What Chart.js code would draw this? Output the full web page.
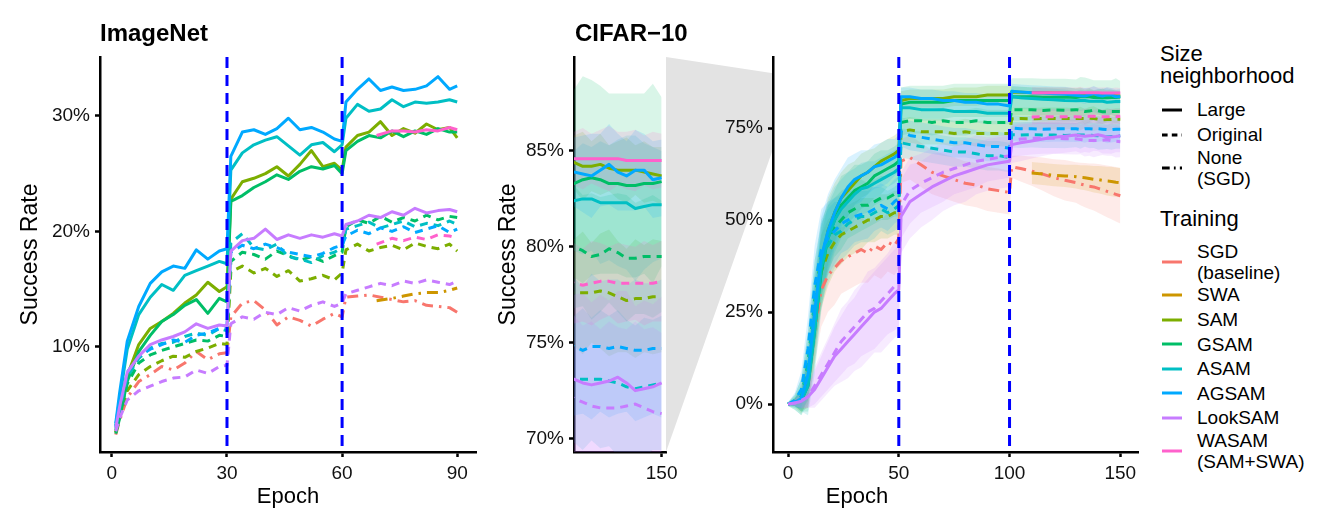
<!DOCTYPE html>
<html>
<head>
<meta charset="utf-8">
<script src="https://cdn.jsdelivr.net/npm/chart.js@4.4.1/dist/chart.umd.min.js"></script>
<style>
  body { margin: 0; background: #fff; font-family: "Liberation Sans", Arial, sans-serif; }
  #wrap { position: relative; width: 1329px; height: 532px; overflow: hidden; background: #fff; }
  canvas { position: absolute; top: 0; }
  .txt { position: absolute; white-space: nowrap; color: #000; }
  .title { font-weight: bold; font-size: 24px; line-height: 24px; top: 21px; }
  .xlab { font-size: 22px; line-height: 22px; top: 485px; transform: translateX(-50%); }
  .ltitle { font-size: 22px; line-height: 21.5px; left: 1160px; }
  .row { position: absolute; left: 1160px; display: flex; align-items: center; }
  .row svg { width: 24px; height: 8px; flex: none; }
  .row span { font-size: 19px; line-height: 21px; margin-left: 13px; color: #000; }
</style>
</head>
<body>
<div id="wrap">
  <canvas id="imagenet" width="486" height="532" style="left:0px"></canvas>
  <canvas id="cifarZoom" width="210" height="532" style="left:480px"></canvas>
  <canvas id="cifarFull" width="480" height="532" style="left:666px"></canvas>
  <div class="txt title" style="left:100px">ImageNet</div>
  <div class="txt title" style="left:575px">CIFAR−10</div>
  <div class="txt xlab" style="left:288px">Epoch</div>
  <div class="txt xlab" style="left:857px">Epoch</div>
  <div class="txt ltitle" style="top:43px">Size<br>neighborhood</div>
  <div class="txt ltitle" style="top:208px">Training</div>
  <div id="legend"></div>
</div>
<script>
// ---------------- ImageNet data ----------------
const imagenetEpochs = [1, 2, 4, 7, 10, 13, 16, 19, 22, 25, 28, 30,
  31, 34, 37, 40, 43, 46, 49, 52, 55, 58, 60,
  61, 64, 67, 70, 73, 76, 79, 82, 85, 88, 90];
const imagenetLateEpochs = [69, 73, 76, 79, 82, 85, 88, 90];

const inSGD = [2.4, 3.6, 5.6, 7.0, 7.6, 8.3, 8.0, 8.6, 9.6, 8.9, 9.4, 9.5,
  12.6, 13.8, 14.0, 13.2, 11.9, 12.6, 12.3, 11.8, 12.4, 12.9, 12.6,
  14.3, 14.4, 14.5, 14.3, 14.1, 13.9, 14.0, 13.6, 13.5, 13.4, 13.0];
const inSWA = [14.0, 14.2, 14.4, 14.6, 14.7, 14.7, 14.9, 15.1];
const inSAM_L = [2.6, 4.0, 7.5, 10.2, 11.6, 12.2, 12.9, 13.8, 14.5, 15.6, 14.8, 15.2,
  22.8, 24.3, 24.6, 25.0, 25.6, 24.8, 25.8, 27.0, 25.6, 25.9, 25.3,
  27.3, 28.3, 28.6, 29.5, 28.3, 28.9, 28.5, 29.3, 28.8, 29.0, 28.1];
const inSAM_O = [2.6, 3.9, 6.2, 7.6, 8.3, 8.8, 9.2, 9.1, 9.6, 9.9, 10.3, 10.2,
  16.5, 17.0, 16.4, 16.8, 16.1, 16.6, 15.7, 15.9, 16.2, 15.8, 16.4,
  18.4, 18.9, 18.3, 18.6, 18.8, 18.4, 19.0, 18.7, 18.5, 18.9, 18.3];
const inGSAM_L = [2.5, 3.8, 7.0, 9.6, 11.0, 12.2, 12.8, 13.6, 14.1, 12.9, 14.2, 13.9,
  22.6, 23.1, 23.8, 24.3, 24.9, 24.5, 25.2, 25.6, 25.4, 25.7, 25.0,
  27.0, 27.8, 28.3, 28.1, 28.7, 28.2, 28.7, 28.4, 28.9, 28.6, 28.6];
const inGSAM_O = [2.8, 4.2, 6.8, 8.6, 9.3, 9.7, 10.0, 10.3, 10.6, 10.5, 11.0, 10.9,
  17.4, 18.2, 18.0, 17.6, 18.3, 17.9, 17.5, 17.8, 17.4, 17.9, 18.2,
  20.4, 21.0, 20.7, 21.3, 20.8, 21.2, 20.9, 21.4, 21.0, 21.3, 21.2];
const inASAM_L = [3.2, 5.5, 9.8, 12.8, 14.3, 15.4, 14.9, 16.2, 16.6, 17.0, 17.4, 17.2,
  25.3, 26.8, 27.5, 27.9, 28.2, 27.4, 26.6, 27.5, 27.7, 26.9, 27.5,
  29.8, 31.0, 30.4, 30.6, 31.4, 30.8, 31.2, 31.1, 31.2, 31.4, 31.2];
const inASAM_O = [3.0, 4.6, 7.4, 9.0, 9.9, 10.3, 10.4, 10.9, 11.2, 11.0, 11.6, 11.4,
  19.0, 19.8, 18.6, 18.4, 18.9, 17.8, 17.6, 17.3, 17.9, 18.2, 18.6,
  20.2, 20.5, 20.8, 20.3, 20.6, 20.9, 20.4, 20.7, 20.5, 20.9, 20.6];
const inAGSAM_L = [3.4, 6.0, 10.5, 13.5, 15.5, 16.5, 17.0, 16.8, 18.4, 17.6, 18.3, 18.5,
  26.5, 28.6, 28.8, 28.4, 28.9, 29.8, 28.8, 29.0, 28.6, 28.0, 27.8,
  31.2, 32.3, 33.2, 32.2, 32.5, 32.2, 32.3, 32.6, 33.4, 32.3, 32.6];
const inAGSAM_O = [3.1, 4.8, 7.8, 9.2, 9.8, 10.2, 10.6, 10.4, 11.0, 11.2, 11.6, 11.9,
  18.2, 18.8, 18.5, 18.9, 18.6, 18.2, 18.0, 17.8, 18.1, 18.6, 18.8,
  19.6, 20.1, 19.8, 20.3, 20.0, 20.4, 19.9, 20.2, 20.5, 19.9, 20.2];
const inLook_L = [3.0, 4.8, 7.8, 9.2, 10.2, 10.6, 10.9, 11.3, 12.0, 11.6, 11.9, 11.8,
  18.3, 19.2, 19.4, 20.2, 19.3, 19.7, 19.4, 19.7, 19.5, 19.8, 19.6,
  20.6, 20.9, 21.4, 21.2, 21.7, 21.4, 22.0, 21.6, 21.8, 21.9, 21.7];
const inLook_O = [2.7, 3.8, 5.4, 6.2, 6.6, 7.0, 7.3, 7.4, 8.0, 7.7, 8.3, 8.4,
  12.0, 12.6, 12.4, 13.0, 12.8, 13.4, 13.1, 13.6, 13.9, 13.5, 13.8,
  14.6, 14.9, 15.2, 15.5, 15.3, 15.7, 15.5, 15.8, 15.6, 15.4, 15.7];
const inWASAM_L = [28.3, 28.7, 28.7, 28.6, 28.8, 28.7, 29.0, 28.8];
const inWASAM_O = [18.9, 19.4, 19.2, 19.5, 19.3, 19.7, 19.6, 19.4];

// ---------------- CIFAR-10 data (mean and spread) ----------------
const cifarEpochs = [0, 3, 6, 9, 12, 15, 18, 21, 24, 27, 30, 33, 36, 39, 42, 45, 48, 50,
  51, 55, 60, 65, 70, 75, 80, 85, 90, 95, 100,
  101, 105, 110, 115, 120, 125, 130, 132, 134, 136, 138, 140, 142, 144, 146, 148, 150];
const cifarLateEpochs = [110, 115, 120, 125, 130, 132, 134, 136, 138, 140, 142, 144, 146, 148, 150];

const cSGD = [0, 0.5, 1.5, 5, 20, 31, 35, 37, 39, 40, 41, 42, 41, 43, 42, 44, 43, 45,
  66, 67, 65, 63, 62, 61, 60, 59.5, 58.5, 58, 57.5,
  64.5, 64, 63.3, 62.5, 61.5, 60.8, 60.2, 59.8, 59.5, 59.2, 59.0, 58.6, 58.2, 57.8, 57.4, 57.0, 56.6];
const sSGD = [0.3, 1, 3, 6, 9, 10, 10, 10, 9, 9, 9, 9, 8, 8, 8, 8, 8, 8,
  6, 6, 6, 6, 6, 6, 6, 6, 6, 6, 6,
  3, 3.5, 4, 4.5, 5, 5.5, 5.5, 5.8, 6, 6.2, 6.4, 6.6, 6.8, 7, 7.2, 7.4, 7.5];
const cSWA = [62.8, 62.5, 62.2, 62.0, 61.8, 61.6, 61.5, 61.3, 61.1, 61.0, 60.8, 60.6, 60.5, 60.3, 60.2];
const sSWA = [3, 3, 3, 3, 3.2, 3.3, 3.4, 3.5, 3.6, 3.7, 3.8, 3.9, 4, 4, 4];
const cSAM_L = [0, 0.5, 1, 6, 22, 38, 47, 52, 56, 58, 60, 62, 63, 64.5, 66, 67, 68, 69,
  82.5, 83, 83, 83, 83, 83.5, 83.5, 83.5, 84, 84, 84,
  84.8, 84.7, 84.6, 84.6, 84.5, 84.5, 84.4, 84.2, 84.2, 84.3, 84.1, 84.0, 84.0, 84.0, 83.9, 83.8, 83.7];
const sSAM_L = [0.3, 1, 3, 7, 10, 10, 9, 8, 7, 7, 6, 6, 6, 5, 5, 5, 5, 5,
  2.5, 2.5, 2.5, 2.5, 2.5, 2.5, 2.5, 2.5, 2.5, 2.5, 2.5,
  1.5, 1.5, 1.5, 1.5, 1.5, 1.5, 1.4, 1.8, 1.3, 1.6, 1.2, 1.5, 1.7, 1.3, 1.6, 1.4, 1.5];
const cSAM_O = [0, 0.5, 1.5, 9, 25, 36, 41, 44, 46, 47, 48, 49, 50, 50, 51, 51, 52, 52,
  74, 74.5, 74, 74, 74, 73.5, 74, 73.5, 73.5, 73.5, 73.5,
  77.5, 77.6, 77.5, 77.6, 77.6, 77.6, 77.6, 77.6, 77.6, 77.7, 77.6, 77.4, 77.2, 77.3, 77.3, 77.4, 77.4];
const sSAM_O = [0.5, 1.5, 4, 8, 10, 10, 9, 8, 8, 7, 7, 7, 6, 6, 6, 6, 6, 6,
  3.5, 3.5, 3.5, 3.5, 3.5, 3.5, 3.5, 3.5, 3.5, 3.5, 3.5,
  3, 3, 3, 3, 3, 3, 2.8, 3.2, 2.6, 3.0, 3.3, 2.9, 2.7, 3.1, 2.8, 3.0, 2.9];
const cGSAM_L = [0, 0.5, 1, 5, 20, 36, 45, 50, 54, 56, 58, 59, 60, 62, 63, 64, 65, 66,
  81.5, 82, 82, 82, 82, 82.5, 82.5, 82.5, 82.5, 82.5, 82.5,
  83.5, 83.5, 83.5, 83.4, 83.4, 83.4, 83.3, 83.5, 83.6, 83.5, 83.3, 83.3, 83.2, 83.2, 83.3, 83.3, 83.4];
const sGSAM_L = [0.3, 1, 3, 7, 10, 10, 9, 8, 8, 7, 7, 6, 6, 6, 6, 5, 5, 5,
  4.5, 4.5, 4.5, 4.5, 4.5, 4.5, 4.5, 4.5, 4.5, 4.5, 4.5,
  5, 5, 5, 5, 5, 5, 4.9, 5.4, 5.1, 4.9, 4.7, 4.7, 4.8, 4.8, 4.7, 5.2, 4.4];
const cGSAM_O = [0, 0.5, 2, 11, 28, 40, 45, 48, 50, 52, 53, 54, 54, 55, 56, 56, 57, 57,
  76.5, 77, 77, 76.5, 77, 76.5, 76.5, 77, 76.5, 76.5, 76.5,
  80, 80, 80, 79.8, 79.9, 79.8, 80.0, 79.8, 79.5, 79.6, 79.9, 79.7, 79.4, 79.4, 79.5, 79.5, 79.5];
const sGSAM_O = [0.5, 2, 5, 9, 11, 10, 9, 8, 8, 7, 7, 7, 6, 6, 6, 6, 6, 6,
  3.5, 3.5, 3.5, 3.5, 3.5, 3.5, 3.5, 3.5, 3.5, 3.5, 3.5,
  3, 3, 3, 3, 3, 3, 3.2, 2.9, 3.3, 3.0, 2.8, 3.1, 3.3, 2.9, 3.0, 3.2, 2.9];
const cASAM_L = [0, 0.5, 1, 5, 20, 37, 45, 50, 53, 55, 57, 58.5, 59, 60, 61, 62, 63, 64,
  80.5, 80.5, 80, 80, 80, 79.5, 79.5, 79.5, 79, 79, 79,
  83.5, 83.2, 83, 82.8, 82.7, 82.5, 82.4, 82.5, 82.5, 82.3, 82.3, 82.3, 82.3, 82.0, 82.1, 82.2, 82.2];
const sASAM_L = [0.3, 1, 3, 8, 12, 12, 10, 9, 8, 8, 7, 7, 7, 6, 6, 6, 6, 6,
  3, 3, 3, 3, 3, 3, 3, 3, 3, 3, 3,
  3, 3, 3, 3, 3, 3, 2.6, 2.9, 2.7, 3.2, 3.0, 3.3, 3.5, 3.8, 3.3, 3.0, 2.8];
const cASAM_O = [0, 0.5, 2, 10, 27, 38, 43, 46, 47, 49, 50, 51, 51, 52, 53, 52, 53, 54,
  71, 70.5, 70, 69.5, 69, 68.5, 68.5, 68, 67.5, 67.5, 67,
  73.2, 73.1, 73.2, 73.1, 73.1, 73, 73.1, 73.1, 73.1, 73.1, 73.0, 72.9, 72.7, 72.6, 72.7, 72.8, 72.9];
const sASAM_O = [0.5, 2, 5, 10, 12, 11, 10, 9, 8, 8, 7, 7, 7, 7, 6, 6, 6, 6,
  4, 4, 4, 4, 4, 4, 4, 4, 4, 4, 4,
  3.5, 3.5, 3.5, 3.5, 3.5, 3.5, 3.3, 3.7, 3.2, 3.6, 3.4, 3.8, 3.5, 3.3, 3.6, 3.4, 3.5];
const cAGSAM_L = [0, 0.5, 1.5, 8, 25, 40, 47, 52, 56, 59, 61, 62, 63, 64.5, 65, 66, 67, 68,
  83.5, 83.5, 83, 83, 82.5, 82.5, 82, 82, 81.5, 81.5, 81,
  85, 84.8, 84.6, 84.5, 84.3, 84.2, 83.9, 83.8, 83.7, 84.0, 84.3, 83.9, 83.7, 84.0, 84.0, 83.5, 83.6];
const sAGSAM_L = [0.3, 1, 3, 7, 10, 11, 10, 9, 8, 8, 7, 7, 6, 6, 6, 6, 5, 5,
  2.5, 2.5, 2.5, 2.5, 2.5, 2.5, 2.5, 2.5, 2.5, 2.5, 2.5,
  2, 2, 2, 2, 2, 2, 1.8, 2.0, 2.2, 1.9, 2.1, 2.0, 1.8, 2.1, 1.9, 2.0, 2.0];
const cAGSAM_O = [0, 1, 4, 15, 32, 42, 45, 47, 49, 50, 51, 51.5, 52, 53, 54, 53, 55, 56,
  74, 73, 72.5, 72, 71.5, 71, 71, 70.5, 70, 70, 69.5,
  75, 74.8, 74.8, 74.7, 74.8, 74.8, 74.8, 74.6, 74.8, 74.8, 74.7, 74.8, 74.7, 74.6, 74.6, 74.7, 74.7];
const sAGSAM_O = [0.5, 2, 5, 9, 11, 11, 10, 9, 8, 8, 7, 7, 7, 6, 6, 6, 6, 6,
  4, 4, 4, 4, 4, 4, 4, 4, 4, 4, 4,
  3.5, 3.5, 3.5, 3.5, 3.5, 3.5, 3.6, 3.3, 3.8, 3.4, 3.6, 3.5, 3.3, 3.7, 3.5, 3.4, 3.6];
const cLook_L = [0, 0.3, 0.8, 2, 4, 7, 10, 13, 15, 17, 19, 21, 23, 25, 26, 28, 30, 31,
  51, 55, 57, 59, 60.5, 62, 63, 64, 65, 65.5, 66,
  70.5, 71, 71.5, 72, 72.5, 72.8, 73.1, 72.9, 72.8, 72.9, 73.0, 73.2, 72.9, 72.5, 72.6, 72.7, 72.9];
const sLook_L = [0.3, 0.8, 2, 3, 5, 6, 7, 8, 9, 10, 10, 11, 11, 11, 12, 12, 12, 12,
  10, 10, 9, 9, 8, 8, 8, 7, 7, 7, 7,
  5, 5, 4.8, 4.6, 4.5, 4.5, 4.4, 4.7, 4.3, 4.6, 4.2, 4.5, 4.8, 4.4, 4.6, 4.3, 4.5];
const cLook_O = [0, 0.3, 1, 2, 5, 8, 11, 14, 17, 19, 21, 23, 25, 26, 28, 30, 32, 33,
  54, 58, 60, 61.5, 63, 64, 65, 66, 66.5, 67, 67.5,
  71.5, 72, 72.2, 72.3, 72.2, 72.1, 72.1, 71.9, 71.7, 71.6, 71.6, 71.6, 71.7, 71.8, 71.6, 71.4, 71.3];
const sLook_O = [0.3, 0.8, 2, 3, 5, 6, 7, 8, 9, 9, 10, 10, 11, 11, 11, 11, 12, 12,
  9, 9, 8, 8, 8, 7, 7, 7, 6, 6, 6,
  4.5, 4.5, 4.4, 4.3, 4.2, 4.2, 4.3, 4.0, 4.4, 4.1, 4.5, 4.2, 4.0, 4.3, 4.1, 4.4, 4.2];
const cWASAM_L = [84.6, 84.6, 84.6, 84.6, 84.6, 84.6, 84.6, 84.6, 84.6, 84.6, 84.5, 84.5, 84.5, 84.5, 84.5];
const sWASAM_L = [1.5, 1.5, 1.5, 1.5, 1.4, 1.6, 1.3, 1.5, 1.7, 1.4, 1.5, 1.6, 1.3, 1.5, 1.4];
const cWASAM_O = [78.0, 78.1, 78.1, 78.1, 78.1, 78.0, 78.1, 78.2, 78.2, 78.1, 78.1, 78.1, 78.1, 78.1, 78.2];
const sWASAM_O = [2, 2, 2, 2, 2.1, 1.9, 2.2, 2.0, 1.8, 2.1, 2.0, 1.9, 2.2, 2.0, 2.1];

// ticks and phase boundaries
const imagenetXTicks = [0, 30, 60, 90];
const imagenetYTicks = [10, 20, 30];
const imagenetPhases = [30, 60];
const cifarXTicks = [0, 50, 100, 150];
const cifarYTicks = [0, 25, 50, 75];
const cifarPhases = [50, 100];
const zoomXTicks = [150];
const zoomYTicks = [70, 75, 80, 85];

const methods = ['SGD', 'SWA', 'SAM', 'GSAM', 'ASAM', 'AGSAM', 'LookSAM', 'WASAM'];
const methodLabels = [['SGD', '(baseline)'], ['SWA'], ['SAM'], ['GSAM'], ['ASAM'], ['AGSAM'], ['LookSAM'], ['WASAM', '(SAM+SWA)']];
const sizes = ['Large', 'Original', 'None'];
const sizeLabels = [['Large'], ['Original'], ['None', '(SGD)']];

// ---------------- styles ----------------
const methodColor = {
  SGD: '#F8766D', SWA: '#CD9600', SAM: '#7CAE00', GSAM: '#00BE67',
  ASAM: '#00BFC4', AGSAM: '#00A9FF', LookSAM: '#C77CFF', WASAM: '#FF61CC'
};
const sizeDash = { Large: [], Original: [8, 6], None: [11, 6, 2.5, 6] };
const INK = '#111';
Chart.defaults.font.family = '"Liberation Sans", Arial, sans-serif';

function alpha(hex, a) {
  const n = parseInt(hex.slice(1), 16);
  return `rgba(${n >> 16}, ${(n >> 8) & 255}, ${n & 255}, ${a})`;
}
const pts = (xs, ys) => xs.map((x, i) => ({ x, y: ys[i] }));

// first entry is drawn on top
const imagenetSeries = [
  ['WASAM', 'Large', imagenetLateEpochs, inWASAM_L],
  ['WASAM', 'Original', imagenetLateEpochs, inWASAM_O],
  ['LookSAM', 'Large', imagenetEpochs, inLook_L],
  ['LookSAM', 'Original', imagenetEpochs, inLook_O],
  ['AGSAM', 'Large', imagenetEpochs, inAGSAM_L],
  ['AGSAM', 'Original', imagenetEpochs, inAGSAM_O],
  ['ASAM', 'Large', imagenetEpochs, inASAM_L],
  ['ASAM', 'Original', imagenetEpochs, inASAM_O],
  ['GSAM', 'Large', imagenetEpochs, inGSAM_L],
  ['GSAM', 'Original', imagenetEpochs, inGSAM_O],
  ['SAM', 'Large', imagenetEpochs, inSAM_L],
  ['SAM', 'Original', imagenetEpochs, inSAM_O],
  ['SWA', 'None', imagenetLateEpochs, inSWA],
  ['SGD', 'None', imagenetEpochs, inSGD]
];
const cifarSeries = [
  ['WASAM', 'Large', cifarLateEpochs, cWASAM_L, sWASAM_L],
  ['WASAM', 'Original', cifarLateEpochs, cWASAM_O, sWASAM_O],
  ['LookSAM', 'Large', cifarEpochs, cLook_L, sLook_L],
  ['LookSAM', 'Original', cifarEpochs, cLook_O, sLook_O],
  ['AGSAM', 'Large', cifarEpochs, cAGSAM_L, sAGSAM_L],
  ['AGSAM', 'Original', cifarEpochs, cAGSAM_O, sAGSAM_O],
  ['ASAM', 'Large', cifarEpochs, cASAM_L, sASAM_L],
  ['ASAM', 'Original', cifarEpochs, cASAM_O, sASAM_O],
  ['GSAM', 'Large', cifarEpochs, cGSAM_L, sGSAM_L],
  ['GSAM', 'Original', cifarEpochs, cGSAM_O, sGSAM_O],
  ['SAM', 'Large', cifarEpochs, cSAM_L, sSAM_L],
  ['SAM', 'Original', cifarEpochs, cSAM_O, sSAM_O],
  ['SWA', 'None', cifarLateEpochs, cSWA, sSWA],
  ['SGD', 'None', cifarEpochs, cSGD, sSGD]
];

function lineDataset(m, s, xs, ys) {
  return {
    data: pts(xs, ys), borderColor: methodColor[m], borderWidth: 3,
    borderDash: sizeDash[s], pointRadius: 0, fill: false
  };
}
function ribbonDatasets(m, xs, mean, spread) {
  const lower = xs.map((x, i) => ({ x, y: mean[i] - spread[i] }));
  const upper = xs.map((x, i) => ({ x, y: mean[i] + spread[i] }));
  return [
    { data: lower, borderWidth: 0, borderColor: 'transparent', pointRadius: 0, fill: false },
    { data: upper, borderWidth: 0, borderColor: 'transparent', pointRadius: 0, fill: '-1',
      backgroundColor: alpha(methodColor[m], 0.15) }
  ];
}
function cifarDatasets() {
  const lines = cifarSeries.map(([m, s, xs, ys]) => lineDataset(m, s, xs, ys));
  const ribbons = cifarSeries.flatMap(([m, s, xs, ys, sd]) => ribbonDatasets(m, xs, ys, sd));
  return lines.concat(ribbons);
}

// vertical dashed phase lines, drawn over the data
const phaseLines = {
  id: 'phaseLines',
  afterDatasetsDraw(chart, args, opts) {
    if (!opts.at) return;
    const { ctx, chartArea, scales: { x } } = chart;
    ctx.save();
    ctx.strokeStyle = '#0000FF';
    ctx.lineWidth = 3;
    ctx.setLineDash([11, 7]);
    opts.at.forEach(v => {
      const px = x.getPixelForValue(v);
      ctx.beginPath();
      ctx.moveTo(px, chartArea.top);
      ctx.lineTo(px, chartArea.bottom);
      ctx.stroke();
    });
    ctx.restore();
  }
};

// grey band linking the zoomed panel to the full panel
const zoomBand = {
  id: 'zoomBand',
  beforeDraw(chart, args, opts) {
    if (!opts.range) return;
    const { ctx, chartArea, scales: { y } } = chart;
    ctx.save();
    ctx.fillStyle = '#e3e3e3';
    ctx.beginPath();
    ctx.moveTo(0, chartArea.top);
    ctx.lineTo(chartArea.left, y.getPixelForValue(opts.range[1]));
    ctx.lineTo(chartArea.left, y.getPixelForValue(opts.range[0]));
    ctx.lineTo(0, chartArea.bottom);
    ctx.closePath();
    ctx.fill();
    ctx.restore();
  }
};

function axisBase(ticks, fmt) {
  return {
    type: 'linear',
    afterBuildTicks: sc => { sc.ticks = ticks.map(v => ({ value: v })); },
    grid: { display: true, drawOnChartArea: false, drawTicks: true, tickLength: 5,
      tickWidth: 2.5, tickColor: '#000' },
    border: { display: true, color: '#000', width: 2.5 },
    ticks: { font: { size: 19 }, color: INK, padding: 5, maxRotation: 0, autoSkip: false,
      callback: fmt }
  };
}

function makeOptions(o) {
  const x = axisBase(o.xTicks, v => String(v));
  x.min = o.xRange[0]; x.max = o.xRange[1];
  x.afterFit = sc => { sc.height = 80; };
  const y = axisBase(o.yTicks, v => v + '%');
  y.min = o.yRange[0]; y.max = o.yRange[1];
  y.afterFit = sc => { sc.width = o.yWidth; };
  y.title = o.yTitle
    ? { display: true, text: 'Success Rate', color: '#000', font: { size: 23 },
        padding: { top: o.yTitlePad, bottom: 0 } }
    : { display: false };
  return {
    responsive: false,
    animation: false,
    layout: { padding: { left: 0, right: o.padRight, top: 57, bottom: 0 } },
    elements: { line: { tension: 0, borderJoinStyle: 'round', borderCapStyle: 'butt' },
      point: { radius: 0 } },
    plugins: {
      legend: { display: false },
      tooltip: { enabled: false },
      filler: { drawTime: 'beforeDatasetsDraw' },
      phaseLines: { at: o.phases },
      zoomBand: { range: o.band }
    },
    scales: { x, y }
  };
}

const zoomYRange = [69.3, 89.9];

new Chart(document.getElementById('imagenet'), {
  type: 'line',
  data: { datasets: imagenetSeries.map(([m, s, xs, ys]) => lineDataset(m, s, xs, ys)) },
  options: makeOptions({ xTicks: imagenetXTicks, yTicks: imagenetYTicks,
    xRange: [-3.1, 94.9], yRange: [0.9, 35.1], yWidth: 100, yTitle: true, yTitlePad: 17,
    padRight: 10, phases: imagenetPhases }),
  plugins: [phaseLines]
});

new Chart(document.getElementById('cifarZoom'), {
  type: 'line',
  data: { datasets: cifarDatasets() },
  options: makeOptions({ xTicks: zoomXTicks, yTicks: zoomYTicks,
    xRange: [130, 151], yRange: zoomYRange, yWidth: 94, yTitle: true, yTitlePad: 15,
    padRight: 24 }),
  plugins: [phaseLines]
});

new Chart(document.getElementById('cifarFull'), {
  type: 'line',
  data: { datasets: cifarDatasets() },
  options: makeOptions({ xTicks: cifarXTicks, yTicks: cifarYTicks,
    xRange: [-6.8, 158], yRange: [-13, 94.3], yWidth: 107, yTitle: false,
    padRight: 8, phases: cifarPhases, band: zoomYRange }),
  plugins: [phaseLines, zoomBand]
});

// ---------------- legend ----------------
function keySvg(color, dash) {
  const d = dash.length ? ` stroke-dasharray="${dash.join(' ')}"` : '';
  return `<svg viewBox="0 0 24 8"><line x1="2" y1="4" x2="22" y2="4" stroke="${color}" stroke-width="3"${d}/></svg>`;
}
const legend = document.getElementById('legend');
function addRows(labels, keyFor, startTop) {
  let top = startTop;
  labels.forEach((lines, i) => {
    const h = lines.length > 1 ? 41.4 : 24.6;
    const row = document.createElement('div');
    row.className = 'row';
    row.style.top = top + 'px';
    row.style.height = h + 'px';
    row.innerHTML = keyFor(i) + `<span>${lines.join('<br>')}</span>`;
    legend.appendChild(row);
    top += h;
  });
}
addRows(sizeLabels, i => keySvg('#000', sizeDash[sizes[i]].map(v => v * 0.7)), 97.7);
addRows(methodLabels, i => keySvg(methodColor[methods[i]], []), 241.3);
</script>
</body>
</html>
